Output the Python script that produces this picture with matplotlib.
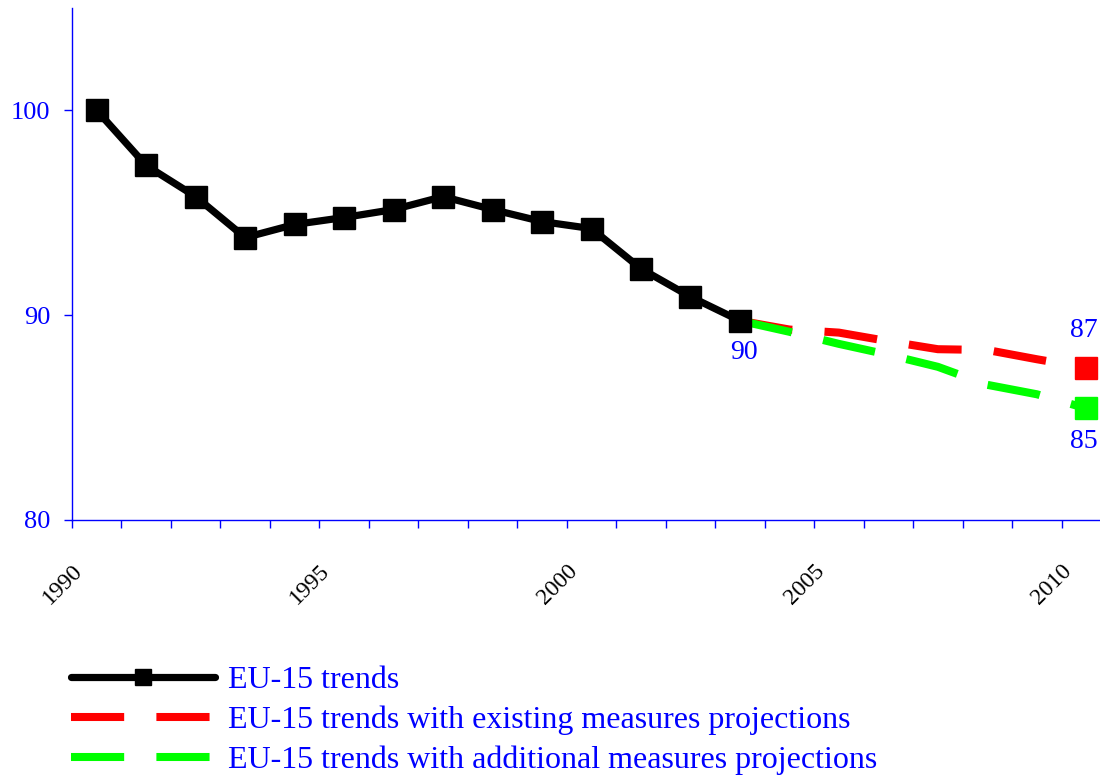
import matplotlib
matplotlib.use("Agg")
import matplotlib.pyplot as plt
from matplotlib.transforms import offset_copy, blended_transform_factory

plt.rcParams['font.family'] = ['Liberation Serif', 'DejaVu Serif']

# ---- data ----
years = list(range(1990, 2011))
trend_years = list(range(1990, 2004))
trend_values = [100.0, 97.31, 95.79, 93.79, 94.43, 94.77, 95.16, 95.79,
                95.16, 94.57, 94.23, 92.27, 90.90, 89.73]
proj_years = list(range(2003, 2011))
existing_values = [89.73, 89.30, 89.15, 88.73, 88.34, 88.30, 87.85, 87.43]
additional_values = [89.73, 89.19, 88.60, 88.07, 87.48, 86.60, 86.14, 85.45]
label_years = [1990, 1995, 2000, 2005, 2010]
y_ticks = [80, 90, 100]
series_labels = ["EU-15 trends",
                 "EU-15 trends with existing measures projections",
                 "EU-15 trends with additional measures projections"]

BLUE = (0, 0, 1)
RED = (1, 0, 0)
GREEN = (0, 1, 0)

W, H = 1100, 777
fig = plt.figure(figsize=(W / 100, H / 100), dpi=100)
ax = fig.add_axes([72 / W, 257 / H, (1111 - 72) / W, 512 / H])

idx = {y: i for i, y in enumerate(years)}
tx = [idx[y] for y in trend_years]
px = [idx[y] for y in proj_years]

dash = (0, (6.6, 4.0))
ax.plot(px, existing_values, color=RED, lw=5.8, linestyle=dash,
        label=series_labels[1], zorder=2)
ax.plot(px, additional_values, color=GREEN, lw=5.8, linestyle=dash,
        label=series_labels[2], zorder=2)
ax.plot(tx, trend_values, color='black', lw=5.2, marker='s', markersize=16,
        solid_capstyle='round', solid_joinstyle='round',
        label=series_labels[0], zorder=3)
ax.plot([px[-1]], [existing_values[-1]], 's', color=RED, markersize=16, zorder=4)
ax.plot([px[-1]], [additional_values[-1]], 's', color=GREEN, markersize=16, zorder=4)

# data labels
ax.annotate(f"{trend_values[-1]:.0f}", (tx[-1], trend_values[-1]),
            xytext=(3, -23), textcoords='offset points', ha='center', va='center',
            color=BLUE, fontsize=20)
ax.annotate(f"{existing_values[-1]:.0f}", (px[-1], existing_values[-1]),
            xytext=(-2, 27), textcoords='offset points', ha='center', va='center',
            color=BLUE, fontsize=20)
ax.annotate(f"{additional_values[-1]:.0f}", (px[-1], additional_values[-1]),
            xytext=(-2, -24), textcoords='offset points', ha='center', va='center',
            color=BLUE, fontsize=20)

ax.set_xlim(-0.5, len(years) - 0.5)
ax.set_ylim(80, 105)
for s in ['top', 'right']:
    ax.spines[s].set_visible(False)
for s in ['left', 'bottom']:
    ax.spines[s].set_color(BLUE)
    ax.spines[s].set_linewidth(1.0)

ax.set_yticks(y_ticks)
ax.tick_params(axis='y', colors=BLUE, labelcolor=BLUE, labelsize=19,
               length=5.8, width=1, pad=10, direction='out')
ax.set_xticks([i - 0.5 for i in range(len(years) + 1)])
ax.set_xticklabels([])
ax.tick_params(axis='x', colors=BLUE, length=5.8, width=1, direction='out')

trans = blended_transform_factory(ax.transData, ax.transAxes)
for y in label_years:
    t = offset_copy(trans, fig=fig, x=-10, y=-40, units='dots')
    ax.text(idx[y], 0, str(y), transform=t, rotation=45, ha='right', va='top',
            color='black', fontsize=17)

leg = fig.legend(loc='upper left', bbox_to_anchor=(71 / W, 1 - 666 / H),
                 frameon=False, fontsize=23, handlelength=4.5, handletextpad=0.4,
                 labelspacing=0.33, borderpad=0, borderaxespad=0, markerscale=0.7,
                 handles=[ax.lines[2], ax.lines[0], ax.lines[1]],
                 labels=series_labels)
for t in leg.get_texts():
    t.set_color(BLUE)

fig.savefig("out.png", dpi=100)
